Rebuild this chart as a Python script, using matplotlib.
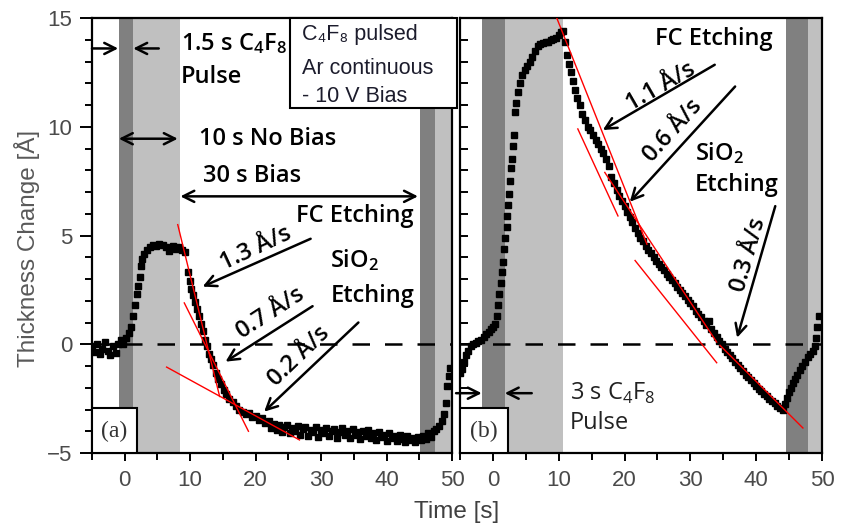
import numpy as np
import matplotlib.pyplot as plt
from matplotlib.patches import Rectangle
from matplotlib.ticker import MultipleLocator


plt.rcParams['mathtext.fontset'] = 'custom'
plt.rcParams['mathtext.rm'] = 'Open Sans'
plt.rcParams['mathtext.bf'] = 'Open Sans:semibold'


# ---------------- data ----------------

# Panel (a): 1.5 s C4F8 pulse
time_a = [-5.0, -4.6, -4.2, -3.8, -3.4, -3.0, -2.6, -2.2, -1.8, -1.4, -1.0, -0.6, -0.2, 0.2,
          0.6, 0.9, 1.2, 1.5, 1.8, 2.0, 2.3, 2.5, 2.7, 3.0, 3.4, 3.8, 4.3, 4.8, 5.3, 5.8,
          6.3, 6.8, 7.3, 7.8, 8.3, 8.8, 9.2, 9.6, 9.9, 10.2, 10.5, 10.8, 11.1, 11.4, 11.7,
          12.0, 12.3, 12.6, 12.9, 13.2, 13.5, 13.9, 14.3, 14.7, 15.1, 15.5, 16.0, 16.5,
          17.0, 17.5, 18.0, 18.5, 19.0, 19.5, 20.0, 20.5, 21.0, 21.5,
          22.0, 22.4, 22.8, 23.2, 23.6, 24.0, 24.4, 24.8, 25.2, 25.6, 26.0, 26.4, 26.8,
          27.2, 27.6, 28.0, 28.4, 28.8, 29.2, 29.6, 30.0, 30.4, 30.8, 31.2, 31.6, 32.0,
          32.4, 32.8, 33.2, 33.6, 34.0, 34.4, 34.8, 35.2, 35.6, 36.0, 36.4, 36.8, 37.2,
          37.6, 38.0, 38.4, 38.8, 39.2, 39.6, 40.0, 40.4, 40.8, 41.2, 41.6, 42.0, 42.4,
          42.8, 43.2, 43.6, 44.0, 44.4, 44.8, 45.2, 45.6, 46.0, 46.4, 46.8, 47.2, 47.6,
          48.0, 48.4, 48.8, 49.1, 49.3, 49.5, 49.7]
thick_a = [-0.1, -0.35, 0.0, -0.45, -0.2, 0.1, -0.3, -0.5, -0.1, -0.4, 0.0, 0.2, 0.0, 0.3,
           0.5, 0.8, 1.3, 1.8, 2.3, 2.7, 3.1, 3.6, 3.9, 4.15, 4.35, 4.45, 4.55, 4.5, 4.6, 4.55,
           4.45, 4.3, 4.5, 4.4, 4.45, 4.35, 4.25, 3.3, 2.9, 2.55, 2.25, 1.95, 1.6, 1.3, 0.95,
           0.6, 0.2, -0.1, -0.45, -0.7, -0.95, -1.3, -1.6, -1.85, -2.1, -2.3, -2.5, -2.65,
           -2.85, -3.0, -3.1, -3.2, -3.15, -3.35, -3.3, -3.5, -3.4, -3.6,
           -3.55, -3.85, -3.65, -3.95, -3.7, -4.05, -3.8, -3.7, -4.1, -3.85, -4.0, -3.75, -4.15,
           -3.9, -3.8, -4.2, -3.95, -4.05, -3.8, -4.25, -3.95, -4.1, -3.85, -4.2, -4.0, -3.9,
           -4.3, -4.05, -3.85, -4.15, -4.0, -4.3, -3.9, -4.15, -4.05, -4.35, -4.0, -4.2, -3.95,
           -4.3, -4.1, -4.4, -4.05, -4.25, -4.15, -4.45, -4.1, -4.3, -4.2, -4.45, -4.15, -4.35,
           -4.5, -4.2, -4.4, -4.3, -4.5, -4.25, -4.4, -4.2, -4.35, -4.1, -4.25, -4.0, -3.9,
           -3.75, -3.55, -3.2, -2.7, -1.9, -1.45, -1.1]

# Panel (b): 3 s C4F8 pulse
time_b = [-5.0, -4.7, -4.4, -4.1, -3.8, -3.4, -3.0, -2.6, -2.2, -1.8, -1.4, -1.0, -0.6, -0.3,
          0.0, 0.3, 0.6, 0.8, 1.0, 1.2, 1.4, 1.5, 1.7, 1.9, 2.1, 2.2, 2.3, 2.4, 2.6, 2.8,
          2.9, 3.1, 3.2, 3.3, 3.5, 3.8, 4.1, 4.4, 4.8, 5.2, 5.6, 6.0, 6.4, 6.8, 7.2, 7.6,
          8.0, 8.4, 8.8, 9.2, 9.6, 10.0, 10.3, 10.6, 10.9, 11.2, 11.5, 11.8, 12.1, 12.4,
          12.8, 13.2, 13.6, 14.0, 14.4, 14.8, 15.2, 15.6, 16.0, 16.4, 16.8, 17.2, 17.6,
          18.0, 18.4, 18.8, 19.2, 19.6, 20.0, 20.4, 20.8, 21.2, 21.6, 22.0, 22.4, 22.8,
          23.2, 23.6, 24.0, 24.4, 24.8, 25.2, 25.6, 26.0, 26.4, 26.8, 27.2, 27.6, 28.0,
          28.4, 28.8, 29.2, 29.6, 30.0, 30.4, 30.8, 31.2, 31.6, 32.0, 32.4, 32.8, 33.2,
          33.6, 34.0, 34.4, 34.8, 35.2, 35.6, 36.0, 36.4, 36.8, 37.2, 37.6, 38.0, 38.4,
          38.8, 39.2, 39.6, 40.0, 40.4, 40.8, 41.2, 41.6, 42.0, 42.4, 42.8, 43.2, 43.6,
          44.0, 44.4, 44.7, 45.0, 45.3, 45.6, 45.9, 46.2, 46.6, 47.0, 47.4, 47.8, 48.2,
          48.6, 48.9, 49.1, 49.3, 49.5]
thick_b = [-1.3, -1.15, -0.8, -0.5, -0.3, -0.1, 0.0, 0.05, 0.15, 0.2, 0.35, 0.45, 0.55, 0.7,
           0.8, 0.95, 1.3, 1.8, 2.3, 2.8, 3.3, 3.8, 4.4, 4.9, 5.4, 5.9, 6.4, 6.9, 7.5, 8.1,
           8.5, 9.1, 9.6, 10.7, 11.1, 11.6, 12.0, 12.4, 12.6, 12.8, 13.0, 13.2, 13.5, 13.7,
           13.8, 13.85, 13.9, 13.9, 14.0, 14.05, 14.1, 14.2, 14.35, 14.4, 13.9, 13.3, 12.9,
           12.5, 12.1, 11.7, 11.3, 11.0, 10.6, 10.3, 10.0, 9.85, 9.6, 9.4, 9.2, 9.0, 8.8,
           8.5, 8.2, 7.7, 7.4, 7.1, 6.8, 6.6, 6.35, 6.1, 5.85, 5.6, 5.35, 5.1, 4.9, 4.75,
           4.5, 4.35, 4.2, 4.0, 3.85, 3.7, 3.55, 3.4, 3.25, 3.1, 2.95, 2.8, 2.65,
           2.5, 2.35, 2.2, 2.05, 1.9, 1.75, 1.55, 1.4, 1.25, 1.05, 0.9, 1.05, 0.7,
           0.5, 0.35, 0.15, 0.0, -0.2, -0.35, -0.5, -0.65, -0.8, -0.95, -1.1, -1.25, -1.4,
           -1.5, -1.65, -1.8, -1.9, -2.05, -2.15, -2.3, -2.4, -2.5, -2.6, -2.7, -2.85, -2.95,
           -3.0, -2.75, -2.45, -2.2, -2.0, -1.8, -1.6, -1.4, -1.2, -1.0, -0.8, -0.6, -0.45,
           -0.3, -0.1, 0.3, 0.8, 1.3]

# plasma steps (start, end) in s
pulse_a = [(-0.9, 1.2), (45.1, 47.4)]
nobias_a = [(1.2, 8.5), (47.4, 50.0)]
pulse_b = [(-1.7, 1.8), (44.5, 47.8)]
nobias_b = [(1.8, 10.6), (47.8, 50.0)]

# linear fits (t1, t2), (y1, y2)
fits_a_t = [(8.1, 14.5), (9.1, 18.9), (6.4, 26.7)]
fits_a_y = [(5.5, -2.4), (1.9, -4.0), (-1.05, -4.4)]
fits_b_t = [(9.7, 23.4), (12.9, 19.0), (17.0, 34.0), (21.6, 34.0), (34.5, 47.1)]
fits_b_y = [(15.0, 4.6), (9.9, 5.9), (7.9, 0.1), (3.85, -0.85), (-0.05, -3.85)]

xticks = [0, 10, 20, 30, 40, 50]
yticks = [-5, 0, 5, 10, 15]


# ---------------- figure ----------------
fig = plt.figure(figsize=(8.42, 5.29), dpi=100)
W, H = 842.0, 529.0
ax1 = fig.add_axes([92 / W, 1 - 453 / H, 360 / W, 435 / H])
ax2 = fig.add_axes([460 / W, 1 - 453 / H, 362 / W, 435 / H])

tick_col = '#4a4a4a'
ann = dict(family='Open Sans', fontweight='semibold', fontsize=17, color='black')
thin = dict(family='Open Sans', fontweight='normal', fontsize=17, color='#222222')
arrow_kw = dict(arrowstyle='->', lw=1.8, color='black', mutation_scale=20, shrinkA=0, shrinkB=0)
darr_kw = dict(arrowstyle='<->', lw=1.8, color='black', mutation_scale=20, shrinkA=0, shrinkB=0)


def style_axes(ax, inward):
    ax.set_xlim(-5, 50)
    ax.set_ylim(-5, 15)
    ax.set_xticks(xticks)
    ax.set_yticks(yticks)
    ax.xaxis.set_minor_locator(MultipleLocator(5))
    ax.yaxis.set_minor_locator(MultipleLocator(1))
    for s in ax.spines.values():
        s.set_linewidth(1.6)
    ax.tick_params(axis='x', which='both', direction='out', width=1.4, labelsize=16,
                   labelcolor=tick_col, pad=6, top=False)
    ax.tick_params(axis='x', which='major', length=6)
    ax.tick_params(axis='x', which='minor', length=5)
    if inward:
        ax.tick_params(axis='y', which='both', direction='in', width=1.4, length=6,
                       labelleft=False, right=False)
    else:
        ax.tick_params(axis='y', which='both', direction='out', width=1.4,
                       labelsize=16, labelcolor=tick_col, pad=5, right=False)
        ax.tick_params(axis='y', which='major', length=9)
        ax.tick_params(axis='y', which='minor', length=5)
    for lab in ax.get_xticklabels() + ax.get_yticklabels():
        lab.set_family('Liberation Sans')


for ax, t, y, pul, nob, ft, fy in [(ax1, time_a, thick_a, pulse_a, nobias_a, fits_a_t, fits_a_y),
                                   (ax2, time_b, thick_b, pulse_b, nobias_b, fits_b_t, fits_b_y)]:
    for a, b in pul:
        ax.axvspan(a, b, color='#808080', lw=0, zorder=0)
    for a, b in nob:
        ax.axvspan(a, b, color='#c0c0c0', lw=0, zorder=0)
    ax.axhline(0, color='black', lw=1.8, ls=(0, (7, 6)), zorder=1)
    ax.plot(t, y, 's', color='black', ms=3.8, zorder=3)
    for tt, yy in zip(ft, fy):
        ax.plot(tt, yy, color='red', lw=1.0, zorder=4)
    style_axes(ax, ax is ax2)

# ---------------- annotations panel (a) ----------------
ax1.text(8.55, 13.8, r'1.5 s $\mathbf{C_4F_8}$', va='center', ha='left', **ann)
ax1.text(8.55, 12.3, 'Pulse', va='center', ha='left', **ann)
ax1.annotate('', xy=(-1.0, 13.6), xytext=(-5.0, 13.6), arrowprops=arrow_kw, annotation_clip=False)
ax1.annotate('', xy=(1.3, 13.6), xytext=(5.2, 13.6), arrowprops=arrow_kw)
ax1.annotate('', xy=(-0.9, 9.45), xytext=(8.1, 9.45), arrowprops=darr_kw)
ax1.text(11.3, 9.45, '10 s No Bias', va='center', ha='left', **ann)
ax1.text(12.0, 7.75, '30 s Bias', va='center', ha='left', **ann)
ax1.annotate('', xy=(8.5, 6.8), xytext=(44.8, 6.8), arrowprops=darr_kw)
ax1.text(26.1, 5.9, 'FC Etching', va='center', ha='left', **ann)
ax1.text(31.4, 3.85, r'SiO$\mathbf{_2}$', va='center', ha='left', **ann)
ax1.text(31.4, 2.2, 'Etching', va='center', ha='left', **ann)

ax1.annotate('', xy=(11.9, 2.65), xytext=(28.4, 4.85), arrowprops=arrow_kw)
ax1.text(20.0, 4.4, '1.3 Å/s', rotation=25, ha='center', va='center', **ann)
ax1.annotate('', xy=(15.4, -0.8), xytext=(28.7, 1.75), arrowprops=arrow_kw)
ax1.text(22.3, 1.4, '0.7 Å/s', rotation=33, ha='center', va='center', **ann)
ax1.annotate('', xy=(21.3, -3.1), xytext=(35.7, 1.0), arrowprops=arrow_kw)
ax1.text(26.6, -0.55, '0.2 Å/s', rotation=44, ha='center', va='center', **ann)

# ---------------- annotations panel (b) ----------------
ax2.text(24.6, 14.05, 'FC Etching', va='center', ha='left', **ann)
ax2.annotate('', xy=(16.7, 9.85), xytext=(33.7, 12.85), arrowprops=arrow_kw)
ax2.text(25.5, 11.85, '1.1 Å/s', rotation=30, ha='center', va='center', **ann)
ax2.annotate('', xy=(20.8, 6.55), xytext=(36.8, 11.85), arrowprops=arrow_kw)
ax2.text(27.4, 9.8, '0.6 Å/s', rotation=48, ha='center', va='center', **ann)
ax2.text(30.7, 8.8, r'SiO$\mathbf{_2}$', va='center', ha='left', **ann)
ax2.text(30.7, 7.3, 'Etching', va='center', ha='left', **ann)
ax2.annotate('', xy=(37.1, 0.3), xytext=(42.9, 6.35), arrowprops=arrow_kw)
ax2.text(38.8, 4.1, '0.3 Å/s', rotation=74, ha='center', va='center', **ann)
ax2.text(11.7, -2.25, r'3 s C$_4$F$_8$', va='center', ha='left', **thin)
ax2.text(11.7, -3.6, 'Pulse', va='center', ha='left', **thin)
ax2.annotate('', xy=(-1.7, -2.25), xytext=(-5.6, -2.25), arrowprops=arrow_kw, annotation_clip=False)
ax2.annotate('', xy=(1.8, -2.25), xytext=(5.9, -2.25), arrowprops=arrow_kw)

# panel labels
for ax, lab, w in [(ax1, '(a)', 45 / 360), (ax2, '(b)', 48 / 362)]:
    ax.add_patch(Rectangle((0, 0), w, 45 / 435, transform=ax.transAxes, facecolor='white',
                           edgecolor='black', lw=1.5, zorder=6))
    ax.text(w / 2, 22 / 435, lab, transform=ax.transAxes, ha='center', va='center',
            family='Liberation Serif', fontsize=17, color='#333333', zorder=7)

# condition box
fig.add_artist(Rectangle((290 / W, 1 - 108 / H), 167 / W, 90 / H, transform=fig.transFigure,
                         facecolor='white', edgecolor='black', lw=1.5, zorder=5))
box_font = dict(family=['Liberation Sans', 'DejaVu Sans'], fontsize=15.5, color='#1c1c2c', zorder=6)
fig.text(302 / W, 1 - 40 / H, 'C₄F₈ pulsed', va='baseline', **box_font)
fig.text(302 / W, 1 - 74 / H, 'Ar continuous', va='baseline', **box_font)
fig.text(302 / W, 1 - 102 / H, '- 10 V Bias', va='baseline', **box_font)

# axis titles
fig.text(27 / W, 1 - 248 / H, 'Thickness Change [Å]', rotation=90, ha='center', va='center',
         family='Liberation Sans', fontsize=17.5, color='#595959')
fig.text(457 / W, 1 - 512 / H, 'Time [s]', ha='center', va='center',
         family='Liberation Sans', fontsize=17.5, color='#404040')

fig.savefig('out.png', dpi=100)
